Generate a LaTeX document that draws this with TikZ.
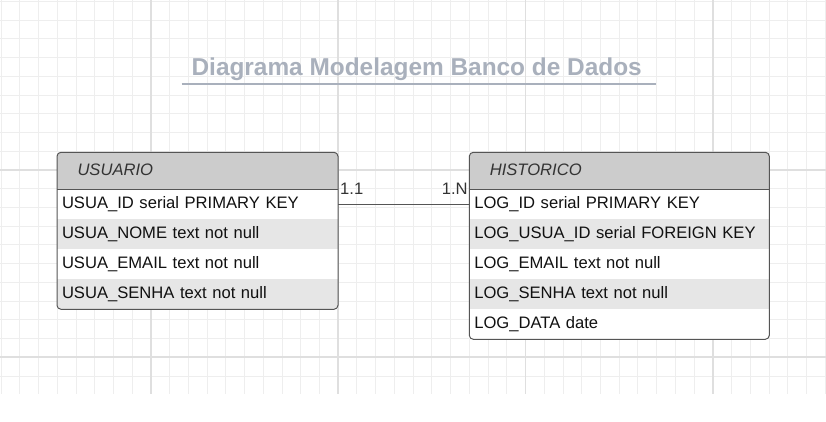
\documentclass[tikz,border=0pt]{standalone}
\usepackage{fontspec}
\setmainfont{Liberation Sans}
\definecolor{gridminor}{HTML}{EEEEEE}
\definecolor{gridmajor}{HTML}{DFDFDF}
\definecolor{bordercol}{HTML}{555555}
\definecolor{hdrfill}{HTML}{CCCCCC}
\definecolor{altfill}{HTML}{E6E6E6}
\definecolor{titlecol}{HTML}{A9B0BC}
\definecolor{txtcol}{HTML}{111111}
\definecolor{labcol}{HTML}{333333}
\tikzset{
  fnt/.style={font=\fontsize{16.6}{20}\selectfont},
  rowcell/.style={anchor=north west, minimum height=30pt, inner xsep=5pt, inner ysep=0pt,
    outer sep=0pt, text height=12pt, text depth=3pt, align=left, text=txtcol, fnt},
  urow/.style={rowcell, text width=271pt},
  hrow/.style={rowcell, text width=290pt},
  alt/.style={fill=altfill},
  hdrcell/.style={anchor=north west, minimum height=37pt, inner xsep=20.5pt, inner ysep=0pt,
    outer sep=0pt, text height=12pt, text depth=3pt, align=left, fill=hdrfill, text=labcol,
    font=\fontsize{16.6}{20}\selectfont\itshape},
  frame/.style={anchor=north west, inner sep=0pt, outer sep=0pt},
  tblborder/.style={draw=bordercol, line width=1pt, rounded corners=4pt},
  sepline/.style={draw=bordercol, line width=1pt},
  conn/.style={draw=bordercol, line width=1pt},
  cardlab/.style={inner sep=0pt, text=labcol, fnt},
  gminor/.style={draw=gridminor, line width=1pt},
  gmajor/.style={draw=gridmajor, line width=1.7pt},
}
\begin{document}
\begin{tikzpicture}[x=1pt,y=-1pt]
\useasboundingbox (0,0) rectangle (826,422);
\fill[white] (0,0) rectangle (826,422);
% grid
\foreach \k in {0,...,44} {
  \pgfmathsetmacro\xx{1.1+18.73*\k}
  \draw[gminor] (\xx,0) -- (\xx,394);
}
\foreach \k in {0,...,20} {
  \pgfmathsetmacro\yy{1.4+18.73*\k}
  \draw[gminor] (0,\yy) -- (826,\yy);
}
\foreach \k in {8,18,28,38} {
  \pgfmathsetmacro\xx{1.1+18.73*\k}
  \draw[gmajor] (\xx,0) -- (\xx,394);
}
\foreach \k in {9,19} {
  \pgfmathsetmacro\yy{1.4+18.73*\k}
  \draw[gmajor] (0,\yy) -- (826,\yy);
}
% title
\node[anchor=base, inner sep=0pt, text=titlecol, font=\fontsize{24.4}{28}\selectfont\bfseries] (title) at (416.7,76) {Diagrama Modelagem Banco de Dados};
\coordinate (ulA) at (181.7,84);
\coordinate (ulB) at (655.7,84);
\draw[titlecol, line width=1.5pt] (ulA) -- (ulB);

% USUARIO table
\node[frame, minimum width=281pt, minimum height=157pt, fill=white] (usuario) at (57,152.3) {};
\begin{scope}
  \clip[rounded corners=4pt] (usuario.north west) rectangle (usuario.south east);
  \node[hdrcell, text width=240pt] (uhdr) at (57,152.3) {USUARIO};
  \node[urow] (u1) at (57,189.3) {USUA\_ID serial PRIMARY KEY};
  \node[urow, alt] (u2) at (57,219.3) {USUA\_NOME text not null};
  \node[urow] (u3) at (57,249.3) {USUA\_EMAIL text not null};
  \node[urow, alt] (u4) at (57,279.3) {USUA\_SENHA text not null};
\end{scope}
\draw[sepline] (uhdr.south west) -- (uhdr.south east);
\draw[tblborder] (usuario.north west) rectangle (usuario.south east);

% HISTORICO table
\node[frame, minimum width=300pt, minimum height=187pt, fill=white] (historico) at (469.3,152.3) {};
\begin{scope}
  \clip[rounded corners=4pt] (historico.north west) rectangle (historico.south east);
  \node[hdrcell, text width=259pt] (hhdr) at (469.3,152.3) {HISTORICO};
  \node[hrow] (h1) at (469.3,189.3) {LOG\_ID serial PRIMARY KEY};
  \node[hrow, alt] (h2) at (469.3,219.3) {LOG\_USUA\_ID serial FOREIGN KEY};
  \node[hrow] (h3) at (469.3,249.3) {LOG\_EMAIL text not null};
  \node[hrow, alt] (h4) at (469.3,279.3) {LOG\_SENHA text not null};
  \node[hrow] (h5) at (469.3,309.3) {LOG\_DATA date};
\end{scope}
\draw[sepline] (hhdr.south west) -- (hhdr.south east);
\draw[tblborder] (historico.north west) rectangle (historico.south east);

% connector
\draw[conn] (u1.east) -- (h1.west);
\node[cardlab, anchor=base west] (c11) at (340,194.3) {1.1};
\node[cardlab, anchor=base east] (c1n) at (467.8,194.3) {1.N};
\end{tikzpicture}
\end{document}
